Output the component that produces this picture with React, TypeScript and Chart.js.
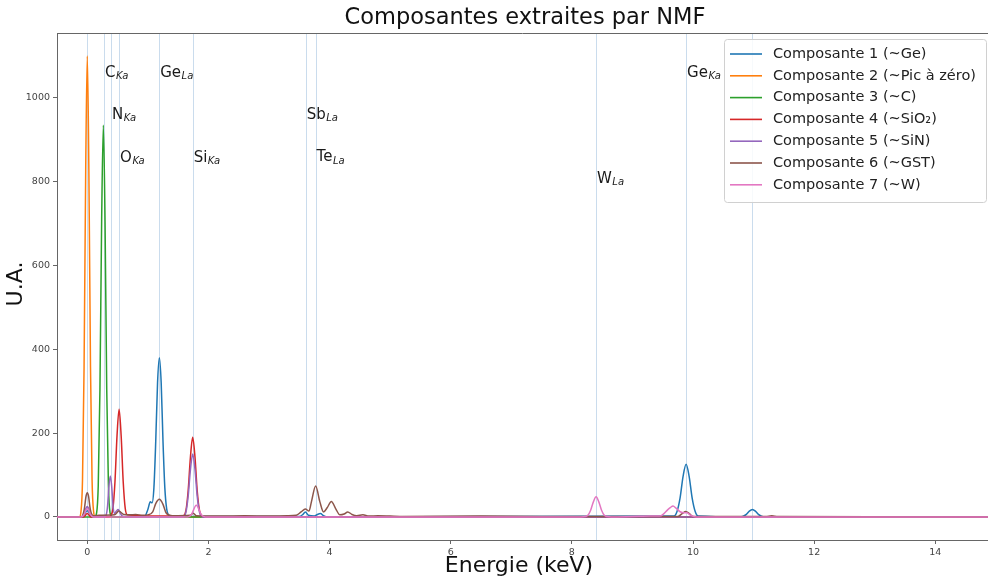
import React, { useEffect, useRef } from "react";
import { Chart, registerables } from "chart.js";

Chart.register(...registerables);

const FONT = '"DejaVu Sans", Verdana, sans-serif';

// ---------- data ----------
const seriesLabels = [
  "Composante 1 (~Ge)",
  "Composante 2 (~Pic à zéro)",
  "Composante 3 (~C)",
  "Composante 4 (~SiO₂)",
  "Composante 5 (~SiN)",
  "Composante 6 (~GST)",
  "Composante 7 (~W)",
];

const comp1Energy = [-0.5, -0.08, -0.04, 0, 0.04, 0.08, 0.95, 1.0, 1.04, 1.07, 1.1, 1.13, 1.16, 1.19, 1.22, 1.25, 1.28, 1.31, 1.35, 1.45, 3.5, 3.56, 3.6, 3.65, 3.75, 3.8, 3.85, 3.9, 3.97, 9.686, 9.736, 9.786, 9.836, 9.886, 9.936, 9.986, 10.036, 10.086, 10.78, 10.83, 10.88, 10.93, 10.98, 11.03, 11.08, 11.13, 11.18, 15];
const comp1Values = [0, 0, 8, 15, 8, 0, 2, 18, 36, 34, 70, 180, 320, 380, 320, 180, 70, 20, 4, 1, 1, 6, 12, 4, 2, 6, 8, 3, 0, 2, 13, 45, 97, 126, 97, 45, 13, 2, 0, 2, 6, 14, 18, 14, 6, 2, 0, 0];

const comp2Energy = [-0.5, -0.13, -0.105, -0.079, -0.053, -0.026, 0, 0.026, 0.053, 0.079, 0.105, 0.13, 15];
const comp2Values = [0, 0, 12, 88, 358, 830, 1100, 830, 358, 88, 12, 0, 0];

const comp3Energy = [-0.5, 0.12, 0.154, 0.181, 0.209, 0.237, 0.265, 0.293, 0.321, 0.349, 0.376, 0.41, 15];
const comp3Values = [0, 0, 10, 75, 304, 706, 935, 706, 304, 75, 10, 0, 0];

const comp4Energy = [-0.5, -0.06, 0, 0.06, 0.35, 0.39, 0.424, 0.457, 0.491, 0.525, 0.559, 0.593, 0.626, 0.66, 0.75, 0.9, 1.0, 1.55, 1.59, 1.628, 1.665, 1.703, 1.74, 1.778, 1.815, 1.853, 1.89, 1.95, 15];
const comp4Values = [0, 0, 8, 0, 0, 3, 21, 84, 194, 257, 194, 84, 21, 5, 4, 3, 2, 2, 3, 15, 62, 143, 190, 143, 62, 15, 3, 0, 0];

const comp5Energy = [-0.5, -0.1, -0.05, -0.02, 0, 0.02, 0.05, 0.1, 0.28, 0.31, 0.334, 0.357, 0.38, 0.403, 0.426, 0.45, 0.48, 0.51, 0.54, 0.58, 0.65, 1.58, 1.628, 1.665, 1.703, 1.74, 1.778, 1.815, 1.853, 1.9, 15];
const comp5Values = [0, 0, 8, 21, 25, 21, 8, 0, 0, 4, 25, 73, 98, 73, 25, 8, 14, 18, 10, 2, 0, 0, 11, 49, 113, 150, 113, 49, 11, 0, 0];

const comp6Energy = [-0.5, -0.1, -0.05, -0.02, 0, 0.02, 0.05, 0.1, 0.2, 0.45, 0.52, 0.6, 0.7, 0.8, 0.9, 1.0, 1.08, 1.13, 1.19, 1.25, 1.3, 1.4, 1.7, 1.75, 1.8, 2.2, 2.6, 3.0, 3.3, 3.45, 3.53, 3.6, 3.66, 3.7, 3.77, 3.84, 3.9, 3.96, 4.03, 4.1, 4.17, 4.24, 4.3, 4.37, 4.45, 4.55, 4.65, 4.8, 5.2, 6.5, 7.5, 9.75, 9.82, 9.88, 9.94, 10.0, 11.2, 11.3, 11.4, 15];
const comp6Values = [0, 0, 18, 50, 58, 50, 18, 3, 4, 5, 14, 6, 5, 6, 4, 5, 12, 32, 42, 30, 10, 3, 4, 9, 3, 2, 3, 2, 3, 4, 12, 19, 14, 36, 74, 36, 12, 22, 37, 20, 5, 7, 12, 6, 3, 5, 2, 3, 1, 2, 1, 1, 8, 13, 8, 1, 1, 3, 1, 0];

const comp7Energy = [-0.5, -0.1, -0.05, -0.02, 0, 0.02, 0.05, 0.1, 1.66, 1.72, 1.8, 1.88, 1.95, 8.15, 8.22, 8.265, 8.31, 8.355, 8.4, 8.445, 8.49, 8.535, 8.58, 8.65, 9.0, 9.3, 9.45, 9.52, 9.58, 9.63, 9.67, 9.72, 9.78, 9.84, 9.9, 9.96, 10.05, 15];
const comp7Values = [0, 0, 6, 17, 20, 17, 6, 0, 0, 6, 28, 6, 0, 0, 1, 4, 16, 36, 48, 36, 16, 4, 1, 0, 1, 2, 2, 8, 17, 23, 26, 21, 13, 10, 10, 4, 0, 0];

// emission line energies (keV)
const lineEnergies = [0, 0.277, 0.392, 0.525, 1.188, 1.74, 3.605, 3.769, 8.398, 9.886, 10.98];

// line annotations
const annotElements = ["C", "N", "O", "Ge", "Si", "Sb", "Te", "W", "Ge"];
const annotShells = ["Ka", "Ka", "Ka", "La", "Ka", "La", "La", "La", "Ka"];
const annotEnergies = [0.277, 0.392, 0.525, 1.188, 1.74, 3.605, 3.769, 8.398, 9.886];
const annotHeights = [1060, 959, 857, 1060, 857, 959, 858, 807, 1060];

const xTickValues = [0, 2, 4, 6, 8, 10, 12, 14];
const yTickValues = [0, 200, 400, 600, 800, 1000];
const xRange = [-0.5, 14.87];
const yRange = [-55, 1155];

const colors = ["#1f77b4", "#ff7f0e", "#2ca02c", "#d62728", "#9467bd", "#8c564b", "#e377c2"];

const energies = [comp1Energy, comp2Energy, comp3Energy, comp4Energy, comp5Energy, comp6Energy, comp7Energy];
const values = [comp1Values, comp2Values, comp3Values, comp4Values, comp5Values, comp6Values, comp7Values];

const decorPlugin = {
  id: "decor",
  beforeDatasetsDraw(chart: any) {
    const { ctx, chartArea: a, scales } = chart;
    const x = scales.x;
    ctx.save();
    ctx.strokeStyle = "rgba(150,185,220,0.5)";
    ctx.lineWidth = 1;
    for (const e of lineEnergies) {
      const px = Math.round(x.getPixelForValue(e)) + 0.5;
      ctx.beginPath();
      ctx.moveTo(px, a.top);
      ctx.lineTo(px, a.bottom);
      ctx.stroke();
    }
    ctx.restore();
  },
  afterDatasetsDraw(chart: any) {
    const { ctx, scales } = chart;
    const x = scales.x;
    const y = scales.y;
    ctx.save();
    ctx.fillStyle = "#1a1a1a";
    ctx.textBaseline = "middle";
    ctx.textAlign = "left";
    annotElements.forEach((el, i) => {
      const px = x.getPixelForValue(annotEnergies[i]) + 1;
      const py = y.getPixelForValue(annotHeights[i]);
      ctx.font = `15px ${FONT}`;
      ctx.fillText(el, px, py);
      const w = ctx.measureText(el).width;
      ctx.font = `italic 10px ${FONT}`;
      ctx.fillText(annotShells[i], px + w + 0.5, py + 3.5);
    });
    ctx.restore();
  },
  afterDraw(chart: any) {
    const { ctx, chartArea: a } = chart;
    ctx.save();
    // top spine
    ctx.strokeStyle = "#666";
    ctx.lineWidth = 1;
    ctx.beginPath();
    ctx.moveTo(a.left, a.top + 0.5);
    ctx.lineTo(a.right, a.top + 0.5);
    ctx.stroke();

    // title
    ctx.fillStyle = "#111";
    ctx.textAlign = "center";
    ctx.textBaseline = "middle";
    ctx.font = `22.5px ${FONT}`;
    ctx.fillText("Composantes extraites par NMF", 525, 18);

    // axis titles
    ctx.font = `22px ${FONT}`;
    ctx.fillText("Energie (keV)", 519, 566);
    ctx.save();
    ctx.translate(16, 284);
    ctx.rotate(-Math.PI / 2);
    ctx.fillText("U.A.", 0, 0);
    ctx.restore();

    // legend
    const lx = 724.5, ly = 39.5, lw = 262, lh = 163;
    ctx.fillStyle = "rgba(255,255,255,0.85)";
    ctx.strokeStyle = "#d0d0d0";
    ctx.beginPath();
    if ((ctx as any).roundRect) (ctx as any).roundRect(lx, ly, lw, lh, 3);
    else ctx.rect(lx, ly, lw, lh);
    ctx.fill();
    ctx.stroke();
    ctx.textAlign = "left";
    ctx.textBaseline = "middle";
    ctx.font = `14.5px ${FONT}`;
    seriesLabels.forEach((lab, i) => {
      const ry = 54 + i * 21.8;
      ctx.strokeStyle = colors[i];
      ctx.lineWidth = 1.6;
      ctx.beginPath();
      ctx.moveTo(730, ry);
      ctx.lineTo(762, ry);
      ctx.stroke();
      ctx.fillStyle = "#222";
      ctx.fillText(lab, 773, ry);
    });
    ctx.restore();
  },
};

export default function App() {
  const ref = useRef<HTMLCanvasElement>(null);
  useEffect(() => {
    document.body.style.margin = "0";
    const datasets = seriesLabels.map((label, i) => ({
      label,
      data: energies[i].map((e, j) => ({ x: e, y: values[i][j] })),
      borderColor: colors[i],
      backgroundColor: colors[i],
      borderWidth: 1.5,
      pointRadius: 0,
      fill: false,
      cubicInterpolationMode: "monotone" as const,
      order: seriesLabels.length - i,
    }));
    const chart = new Chart(ref.current as HTMLCanvasElement, {
      type: "line",
      data: { datasets },
      options: {
        animation: false,
        responsive: false,
        devicePixelRatio: 1,
        layout: { padding: { top: 33, left: 0, right: 0, bottom: 0 } },
        plugins: {
          legend: { display: false },
          title: { display: false },
          tooltip: { enabled: false },
        },
        scales: {
          x: {
            type: "linear",
            min: xRange[0],
            max: xRange[1],
            afterBuildTicks(s: any) {
              s.ticks = xTickValues.map((v) => ({ value: v }));
            },
            afterFit(s: any) {
              s.height = 41;
            },
            ticks: {
              autoSkip: false,
              maxRotation: 0,
              padding: 3,
              color: "#444",
              font: { family: FONT, size: 9.5 },
              callback: (v: any) => String(v),
            },
            grid: { drawOnChartArea: false, drawTicks: true, tickLength: 4, color: "#666" },
            border: { display: true, color: "#666", width: 1 },
          },
          y: {
            type: "linear",
            min: yRange[0],
            max: yRange[1],
            afterBuildTicks(s: any) {
              s.ticks = yTickValues.map((v) => ({ value: v }));
            },
            afterFit(s: any) {
              s.width = 57;
            },
            ticks: {
              autoSkip: false,
              padding: 3,
              color: "#444",
              font: { family: FONT, size: 9.5 },
              callback: (v: any) => String(v),
            },
            grid: { drawOnChartArea: false, drawTicks: true, tickLength: 4, color: "#666" },
            border: { display: true, color: "#666", width: 1 },
          },
        },
      },
      plugins: [decorPlugin],
    });
    return () => chart.destroy();
  }, []);
  return (
    <div style={{ position: "absolute", left: 0, top: 0, width: 988, height: 581, background: "#fff" }}>
      <canvas ref={ref} width={988} height={581} style={{ display: "block", width: 988, height: 581 }} />
    </div>
  );
}
